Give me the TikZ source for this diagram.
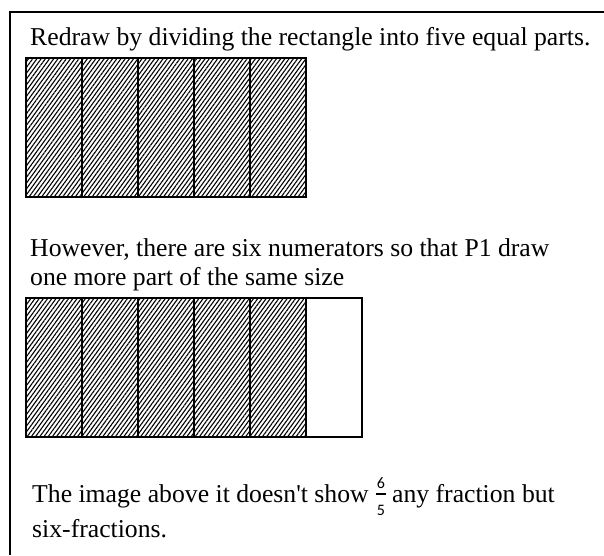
\documentclass[tikz,border=0pt]{standalone}
\usepackage{fontspec}
\setmainfont{Liberation Serif}
\newfontfamily\carlitofont{Carlito}
\usetikzlibrary{patterns.meta}
\begin{document}
\begin{tikzpicture}[x=1pt,y=-1pt,
  txt/.style={anchor=base west,inner sep=0pt,font=\fontsize{25.7}{30}\selectfont},
  cell/.style={draw=black,line width=2pt,minimum width=56pt,minimum height=139pt,inner sep=0pt,outer sep=0pt},
  hatched/.style={cell,pattern={Lines[angle=54,distance=3.4pt,line width=1.1pt]},pattern color=black},
  fracnum/.style={inner sep=0pt,anchor=base,font=\carlitofont\fontsize{16}{16}\selectfont},
  frame/.style={line width=1.4pt}
]
\useasboundingbox (0,0) rectangle (604,555);
\fill[white] (0,0) rectangle (604,555);
% outer frame (left and top edges)
\coordinate (fbl) at (10,555);
\coordinate (ftl) at (10,12);
\coordinate (ftr) at (604,12);
\draw[frame] (fbl) -- (ftl) -- (ftr);

\node[txt] (t1) at (30,45) {Redraw by dividing the rectangle into five equal parts.};

% first rectangle: five hatched parts
\foreach \i in {0,...,4}{
  \node[hatched,anchor=north west] (a\i) at ({25.5+56.1*\i},58) {};
}

\node[txt] (t2) at (30,256) {However, there are six numerators so that P1 draw};
\node[txt] (t3) at (30,285) {one more part of the same size};

% second rectangle: five hatched parts plus one empty
\foreach \i in {0,...,4}{
  \node[hatched,anchor=north west] (b\i) at ({25.5+56.1*\i},298) {};
}
\node[cell,anchor=north west] (b5) at ({25.5+56.1*5},298) {};

\node[txt] (t4a) at (32,502) {The image above it doesn\textquotesingle t show};
\coordinate (fc) at ([xshift=12pt]t4a.base east);
\node[fracnum] (n6) at ([yshift=14pt]fc) {6};
\node[fracnum] (d5) at ([yshift=-13pt]fc) {5};
\draw[line width=1.4pt] ([xshift=-5pt,yshift=8pt]fc) -- ([xshift=5pt,yshift=8pt]fc);
\node[txt] (t4b) at ([xshift=11pt]fc) {any fraction but};
\node[txt] (t5) at (32,537) {six-fractions.};
\end{tikzpicture}
\end{document}
